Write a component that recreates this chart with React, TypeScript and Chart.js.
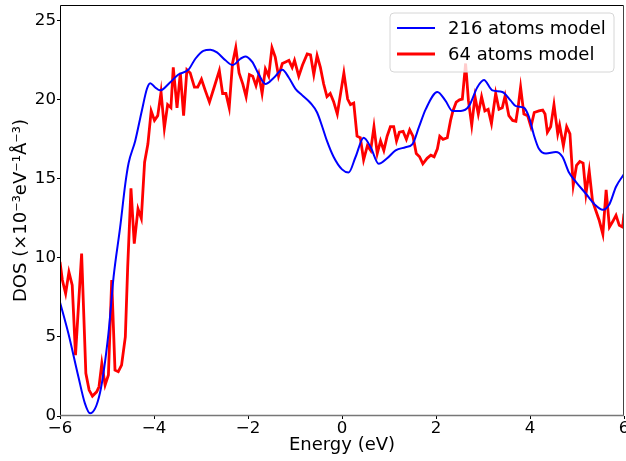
import React, { useEffect, useRef } from "react";
import { Chart, registerables } from "chart.js";

Chart.register(...registerables);

const blueX = [-6.0, -5.82, -5.61, -5.47, -5.36, -5.15, -4.97, -4.86, -4.72, -4.61, -4.54, -4.40, -4.26, -4.15, -4.08, -3.98, -3.87, -3.66, -3.48, -3.27, -3.12, -2.95, -2.80, -2.66, -2.48, -2.33, -2.16, -2.06, -1.91, -1.77, -1.63, -1.45, -1.27, -1.13, -0.99, -0.85, -0.67, -0.53, -0.42, -0.32, -0.18, 0.0, 0.14, 0.29, 0.46, 0.61, 0.78, 0.96, 1.14, 1.35, 1.50, 1.64, 1.78, 2.03, 2.20, 2.35, 2.53, 2.70, 2.88, 3.02, 3.20, 3.41, 3.59, 3.70, 3.87, 3.98, 4.09, 4.19, 4.34, 4.55, 4.69, 4.83, 4.98, 5.19, 5.37, 5.55, 5.69, 5.83, 6.0];
const blueY = [7.2, 5.2, 2.5, 0.8, 0.17, 1.45, 5.2, 8.8, 11.95, 14.7, 16.0, 17.4, 19.3, 20.7, 21.05, 20.8, 20.6, 21.1, 21.6, 21.9, 22.6, 23.1, 23.17, 23.0, 22.5, 22.2, 22.6, 22.75, 22.4, 21.6, 21.0, 21.4, 21.9, 21.4, 20.7, 20.3, 19.8, 19.2, 18.3, 17.4, 16.4, 15.6, 15.4, 16.4, 17.6, 17.0, 15.95, 16.3, 16.8, 17.0, 17.2, 18.3, 19.4, 20.5, 19.95, 19.3, 19.3, 19.6, 20.8, 21.25, 20.6, 20.5, 19.95, 19.6, 19.5, 18.9, 17.7, 16.9, 16.6, 16.7, 16.4, 15.4, 14.8, 14.06, 13.4, 13.05, 13.4, 14.5, 15.3];

const redX = [-6.0, -5.95, -5.88, -5.81, -5.74, -5.67, -5.60, -5.54, -5.45, -5.38, -5.31, -5.22, -5.17, -5.11, -5.04, -4.97, -4.90, -4.83, -4.76, -4.69, -4.61, -4.56, -4.49, -4.42, -4.34, -4.27, -4.20, -4.13, -4.06, -3.99, -3.92, -3.85, -3.78, -3.71, -3.64, -3.59, -3.51, -3.44, -3.37, -3.30, -3.23, -3.14, -3.07, -2.99, -2.91, -2.82, -2.73, -2.61, -2.54, -2.47, -2.40, -2.33, -2.26, -2.19, -2.11, -2.04, -1.97, -1.90, -1.83, -1.77, -1.70, -1.63, -1.56, -1.49, -1.42, -1.35, -1.27, -1.20, -1.13, -1.06, -1.01, -0.92, -0.84, -0.74, -0.67, -0.60, -0.53, -0.46, -0.39, -0.32, -0.25, -0.18, -0.10, -0.03, 0.04, 0.12, 0.18, 0.25, 0.32, 0.39, 0.46, 0.54, 0.61, 0.68, 0.75, 0.82, 0.89, 0.96, 1.03, 1.10, 1.16, 1.22, 1.30, 1.37, 1.44, 1.51, 1.58, 1.65, 1.72, 1.81, 1.89, 1.96, 2.03, 2.08, 2.15, 2.24, 2.31, 2.36, 2.43, 2.50, 2.56, 2.63, 2.69, 2.76, 2.83, 2.90, 2.97, 3.04, 3.11, 3.18, 3.27, 3.34, 3.41, 3.47, 3.55, 3.63, 3.70, 3.75, 3.80, 3.87, 3.95, 4.02, 4.09, 4.19, 4.27, 4.32, 4.37, 4.44, 4.51, 4.59, 4.63, 4.71, 4.78, 4.85, 4.92, 4.99, 5.06, 5.13, 5.19, 5.26, 5.33, 5.40, 5.47, 5.55, 5.62, 5.69, 5.76, 5.83, 5.90, 5.97, 6.0];
const redY = [9.75, 8.6, 7.75, 9.1, 8.27, 3.85, 7.3, 10.27, 2.7, 1.64, 1.26, 1.53, 1.85, 3.33, 1.96, 2.59, 8.6, 2.9, 2.8, 3.22, 5.0, 9.4, 14.4, 10.9, 13.1, 12.5, 16.05, 17.2, 19.3, 18.7, 19.0, 20.5, 18.2, 19.7, 19.5, 22.05, 19.5, 21.7, 19.0, 21.9, 21.7, 20.8, 20.8, 21.3, 20.6, 19.85, 20.7, 21.85, 20.4, 20.4, 19.5, 22.3, 23.3, 21.7, 21.0, 20.2, 21.6, 21.5, 20.9, 21.6, 20.4, 21.95, 21.5, 23.3, 22.7, 21.5, 22.3, 22.4, 22.5, 22.05, 22.5, 21.5, 22.2, 22.9, 22.85, 21.6, 22.8, 22.05, 21.0, 20.2, 20.4, 19.9, 19.1, 20.4, 21.7, 20.05, 19.7, 19.8, 17.7, 17.6, 16.2, 17.1, 16.8, 18.3, 16.6, 17.4, 16.8, 17.7, 18.3, 18.3, 17.4, 17.95, 18.0, 17.5, 18.1, 17.7, 16.6, 16.4, 15.95, 16.3, 16.5, 16.4, 16.9, 17.7, 17.5, 17.6, 18.7, 19.3, 19.85, 20.0, 20.05, 22.3, 19.95, 18.4, 20.2, 19.1, 20.2, 19.3, 19.4, 18.5, 20.4, 19.4, 19.5, 20.25, 19.0, 18.7, 18.65, 19.6, 20.8, 19.1, 19.0, 18.3, 19.2, 19.3, 19.35, 19.1, 17.95, 18.3, 19.7, 17.85, 18.4, 17.1, 18.3, 17.85, 14.6, 15.85, 16.1, 16.0, 14.06, 15.5, 13.6, 13.0, 12.4, 11.5, 14.3, 11.95, 12.3, 12.7, 12.06, 11.95, 12.8];

const xTickValues = [-6, -4, -2, 0, 2, 4, 6];
const yTickValues = [0, 5, 10, 15, 20, 25];
const seriesNames = ["216 atoms model", "64 atoms model"];
const seriesColors = ["#0000ff", "#ff0000"];
const seriesWidths = [2, 2.8];

const FONT = "'DejaVu Sans', sans-serif";
const fmt = (v: number) => (v < 0 ? "\u2212" + Math.abs(v) : String(v));

const framePlugin = {
  id: "frameLegend",
  afterDraw(chart: any) {
    const { ctx, chartArea: a } = chart;
    ctx.save();
    ctx.lineWidth = 1;
    ctx.strokeStyle = "#000";
    ctx.beginPath();
    ctx.moveTo(a.left + 0.5, a.bottom);
    ctx.lineTo(a.left + 0.5, a.top + 0.5);
    ctx.lineTo(a.right - 0.5, a.top + 0.5);
    ctx.stroke();
    ctx.strokeStyle = "#444";
    ctx.beginPath();
    ctx.moveTo(a.right - 0.5, a.top + 0.5);
    ctx.lineTo(a.right - 0.5, a.bottom - 0.5);
    ctx.stroke();
    ctx.strokeStyle = "#777";
    ctx.lineWidth = 1.5;
    ctx.beginPath();
    ctx.moveTo(a.left, a.bottom - 0.5);
    ctx.lineTo(a.right, a.bottom - 0.5);
    ctx.stroke();

    // legend
    const lx = 390, ly = 13, lw = 224, lh = 59, r = 4;
    ctx.beginPath();
    ctx.moveTo(lx + r, ly);
    ctx.lineTo(lx + lw - r, ly);
    ctx.quadraticCurveTo(lx + lw, ly, lx + lw, ly + r);
    ctx.lineTo(lx + lw, ly + lh - r);
    ctx.quadraticCurveTo(lx + lw, ly + lh, lx + lw - r, ly + lh);
    ctx.lineTo(lx + r, ly + lh);
    ctx.quadraticCurveTo(lx, ly + lh, lx, ly + lh - r);
    ctx.lineTo(lx, ly + r);
    ctx.quadraticCurveTo(lx, ly, lx + r, ly);
    ctx.closePath();
    ctx.fillStyle = "rgba(255,255,255,0.8)";
    ctx.fill();
    ctx.strokeStyle = "#d6d6d6";
    ctx.lineWidth = 1;
    ctx.stroke();
    ctx.font = `18px ${FONT}`;
    ctx.textBaseline = "middle";
    ctx.textAlign = "left";
    seriesNames.forEach((name, i) => {
      const yy = 28 + i * 26;
      ctx.strokeStyle = seriesColors[i];
      ctx.lineWidth = seriesWidths[i];
      ctx.beginPath();
      ctx.moveTo(397, yy);
      ctx.lineTo(435, yy);
      ctx.stroke();
      ctx.fillStyle = "#000";
      ctx.fillText(name, 448, yy + 1);
    });
    ctx.restore();
  },
};

export default function App() {
  const ref = useRef<HTMLCanvasElement | null>(null);
  useEffect(() => {
    document.body.style.margin = "0";
    if (!ref.current) return;
    const chart = new Chart(ref.current, {
      type: "line",
      data: {
        datasets: [
          {
            label: seriesNames[0],
            data: blueX.map((x, i) => ({ x, y: blueY[i] })),
            borderColor: seriesColors[0],
            borderWidth: seriesWidths[0],
            pointRadius: 0,
            cubicInterpolationMode: "monotone",
            fill: false,
          },
          {
            label: seriesNames[1],
            data: redX.map((x, i) => ({ x, y: redY[i] })),
            borderColor: seriesColors[1],
            borderWidth: seriesWidths[1],
            pointRadius: 0,
            tension: 0,
            fill: false,
          },
        ],
      },
      options: {
        animation: false,
        responsive: false,
        layout: { padding: { top: 5, right: 2, left: 0, bottom: 0 } },
        plugins: { legend: { display: false }, tooltip: { enabled: false } },
        scales: {
          x: {
            type: "linear",
            min: -6,
            max: 6,
            afterBuildTicks: (s: any) => {
              s.ticks = xTickValues.map((v) => ({ value: v }));
            },
            afterFit: (s: any) => {
              s.height = 45;
              s.paddingLeft = 0;
              s.paddingRight = 0;
            },
            grid: { drawOnChartArea: false, drawTicks: true, tickLength: 3, color: "#000" },
            border: { display: false },
            ticks: {
              color: "#000",
              padding: 0,
              maxRotation: 0,
              autoSkip: false,
              font: { family: FONT, size: 16.67 },
              callback: (v: any) => fmt(Number(v)),
            },
            title: {
              display: true,
              text: "Energy (eV)",
              color: "#000",
              font: { family: FONT, size: 18 },
              padding: { top: 0, bottom: 5 },
            },
          },
          y: {
            type: "linear",
            min: 0,
            max: 26,
            afterBuildTicks: (s: any) => {
              s.ticks = yTickValues.map((v) => ({ value: v }));
            },
            afterFit: (s: any) => {
              s.width = 60;
              s.paddingTop = 0;
              s.paddingBottom = 0;
            },
            grid: { drawOnChartArea: false, drawTicks: true, tickLength: 3, color: "#000" },
            border: { display: false },
            ticks: {
              color: "#000",
              padding: 1,
              autoSkip: false,
              font: { family: FONT, size: 16.67 },
              callback: (v: any) => fmt(Number(v)),
            },
            title: {
              display: true,
              text: "DOS (\u00d710\u207b\u00b3eV\u207b\u00b9\u00c5\u207b\u00b3)",
              color: "#000",
              font: { family: FONT, size: 18 },
              padding: { top: 11, bottom: 0 },
            },
          },
        },
      },
      plugins: [framePlugin],
    });
    return () => chart.destroy();
  }, []);
  return (
    <div style={{ width: 626, height: 461 }}>
      <canvas ref={ref} width={626} height={461} style={{ display: "block" }} />
    </div>
  );
}
